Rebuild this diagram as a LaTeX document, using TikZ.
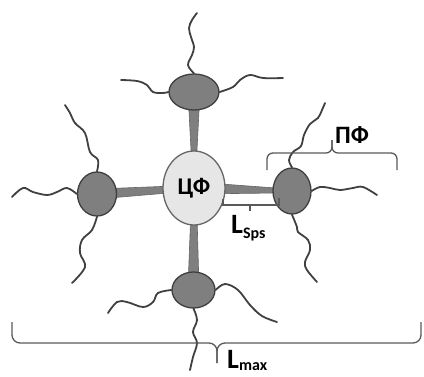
\documentclass[tikz,border=0pt]{standalone}
\usepackage{fontspec}
\setmainfont{Carlito}
\usetikzlibrary{calc,backgrounds,shapes.geometric}
\definecolor{satfill}{HTML}{7F7F7F}
\definecolor{satdraw}{HTML}{3F3F3F}
\definecolor{cenfill}{HTML}{E6E6E6}
\definecolor{cendraw}{HTML}{666666}
\definecolor{tailcol}{HTML}{404040}
\definecolor{bracecol}{HTML}{595959}
\newcommand\stemshape[4]{%
  \path[stemstyle] ($(#1.center)!#3!90:(#2.center)$) -- ($(#2.center)!#4!-90:(#1.center)$)
    -- ($(#2.center)!#4!90:(#1.center)$) -- ($(#1.center)!#3!-90:(#2.center)$) -- cycle;}
\begin{document}
\begin{tikzpicture}[x=1pt,y=-1pt,
  sat/.style={ellipse,draw=satdraw,fill=satfill,line width=1.3pt,inner sep=0pt},
  cen/.style={ellipse,draw=cendraw,fill=cenfill,line width=1.3pt,inner sep=0pt,
    minimum width=62pt,minimum height=74pt,font=\bfseries\fontsize{24}{28}\selectfont},
  stemstyle/.style={fill=satfill,draw=satdraw!80,line width=0.6pt,line join=round},
  tail/.style={draw=tailcol,line width=1.8pt,line cap=round},
  bracestyle/.style={draw=bracecol,line width=1.3pt},
  lbl/.style={font=\bfseries\fontsize{25}{28}\selectfont,inner sep=0pt,anchor=base west}]
\useasboundingbox (0,0) rectangle (424,376);
% nodes
\node[cen] (c) at (194,188) {ЦФ};
\node[sat,minimum width=50pt,minimum height=36pt] (t) at (194,92) {};
\node[sat,minimum width=39pt,minimum height=44pt] (l) at (97,194) {};
\node[sat,minimum width=38pt,minimum height=46pt] (r) at (292,191) {};
\node[sat,minimum width=43pt,minimum height=36pt] (b) at (193.5,290) {};
% stems behind
\begin{pgfonlayer}{background}
\stemshape{t}{c}{6pt}{1pt}
\stemshape{l}{c}{5pt}{2.8pt}
\stemshape{r}{c}{1.8pt}{6pt}
\stemshape{b}{c}{5.6pt}{2.2pt}
\end{pgfonlayer}
% tails: top satellite
\draw[tail] plot[smooth,tension=0.6] coordinates {(t.north) (188,65) (192,55) (194,47) (191,37) (189,28) (192,20) (197,13)};
\draw[tail] plot[smooth,tension=0.6] coordinates {(t.west) (163,93) (153,92) (147,85) (137,81) (121,80)};
\draw[tail] plot[smooth,tension=0.6] coordinates {(t.east) (233,87) (240,80) (250,75) (263,78) (283,78)};
% left satellite
\draw[tail] plot[smooth,tension=0.6] coordinates {(l.north) (98,160) (90,152) (85,133) (75,123) (70,113) (65,105)};
\draw[tail] plot[smooth,tension=0.6] coordinates {(l.west) (67,188) (57,192) (47,195) (33,192) (23,188) (12,197)};
\draw[tail] plot[smooth,tension=0.6] coordinates {(l.south) (92,230) (82,240) (80,253) (85,267) (72,283)};
% right satellite
\draw[tail] plot[smooth,tension=0.6] coordinates {(r.north) (289,160) (293,152) (301,146) (304,135) (310,124) (318,118) (322,110) (325,103)};
\draw[tail] plot[smooth,tension=0.6] coordinates {(r.east) (320,187) (330,188) (340,190) (353,188) (363,187) (377,195)};
\draw[tail] plot[smooth,tension=0.6] coordinates {(r.south) (297,227) (298,232) (308,240) (310,250) (305,262) (307,270) (317,282)};
% bottom satellite
\draw[tail] plot[smooth,tension=0.6] coordinates {(b.west) (158,293) (153,302) (143,307) (127,302) (117,302) (108,313)};
\draw[tail] plot[smooth,tension=0.6] coordinates {(b.south) (197,320) (193,332) (197,343) (193,357) (190,370)};
\draw[tail] plot[smooth,tension=0.6] coordinates {(b.east) (225,284) (238,290) (250,305) (262,316) (277,322)};
% braces
\draw[bracestyle,rounded corners=6pt] (267,170) -- (267,153) -- (332,153) -- (332,140);
\draw[bracestyle,rounded corners=6pt] (397,170) -- (397,153) -- (332,153) -- (332,140);
\draw[bracestyle,rounded corners=8pt] (12,322) -- (12,343) -- (217,343) -- (217,363);
\draw[bracestyle,rounded corners=8pt] (421,322) -- (421,343) -- (217,343) -- (217,363);
\draw[bracestyle] (223,199) -- (223,205) -- (279,205) -- (279,198);
\draw[bracestyle] (250,205) -- (250,211);
% labels
\node[lbl] (pf) at (335,143) {ПФ};
\node[lbl,font=\bfseries\fontsize{28}{30}\selectfont] (ls) at (231,233) {L\raisebox{-5pt}{\fontsize{16}{18}\selectfont Sps}};
\node[lbl,font=\bfseries\fontsize{28}{30}\selectfont] (lm) at (227,368) {L\raisebox{-2pt}{\fontsize{16}{18}\selectfont max}};
\end{tikzpicture}
\end{document}
